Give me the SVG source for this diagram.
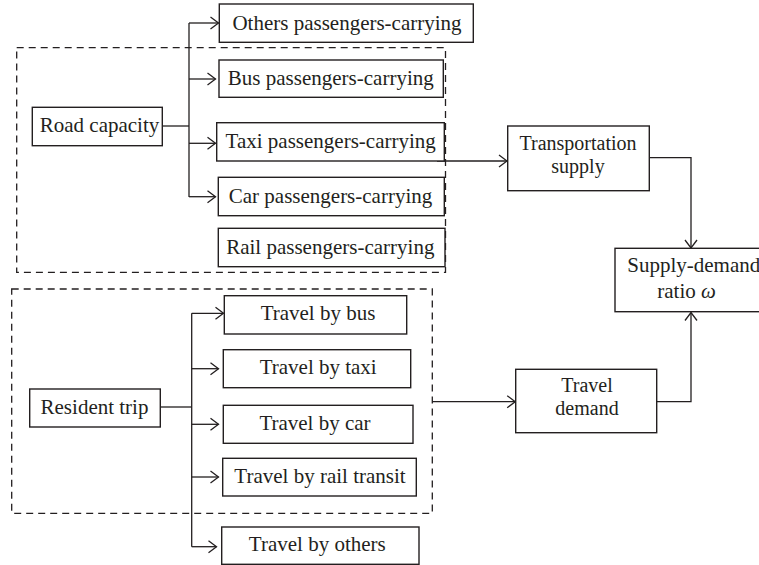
<svg xmlns="http://www.w3.org/2000/svg" width="759" height="565" viewBox="0 0 759 565">
<defs>
<style>
.box{fill:#fff;stroke:#231f20;stroke-width:1.4}
.dash{fill:none;stroke:#231f20;stroke-width:1.3;stroke-dasharray:7 5}
.ln{fill:none;stroke:#231f20;stroke-width:1.3}
text{font-family:"Liberation Serif","Times New Roman",serif;font-size:21px;fill:#231f20}
.c{text-anchor:middle}
.two{font-size:20px}
</style>
<marker id="ah" markerUnits="userSpaceOnUse" viewBox="0 0 10 14" refX="9" refY="7" markerWidth="10" markerHeight="14" orient="auto">
<path d="M1,1 L9,7 L1,13" fill="none" stroke="#231f20" stroke-width="1.3"/>
</marker>
</defs>
<rect width="759" height="565" fill="#fff"/>
<g id="groups">
<rect class="dash" x="16.7" y="47.7" width="428.8" height="224.6"/>
<rect class="dash" x="11.7" y="289" width="420.6" height="224.3"/>
</g>
<g id="connectors">
<path class="ln" d="M162.3,126 H189"/>
<path class="ln" d="M189,197 V23"/>
<path class="ln" d="M189,23 H218.5" marker-end="url(#ah)"/>
<path class="ln" d="M189,79 H215.5" marker-end="url(#ah)"/>
<path class="ln" d="M189,143.3 H215.5" marker-end="url(#ah)"/>
<path class="ln" d="M189,196.7 H215.5" marker-end="url(#ah)"/>
<path class="ln" d="M160.3,407 H191.7"/>
<path class="ln" d="M191.7,313.3 V546.7"/>
<path class="ln" d="M191.7,313.3 H223.5" marker-end="url(#ah)"/>
<path class="ln" d="M191.7,368.7 H218.5" marker-end="url(#ah)"/>
<path class="ln" d="M191.7,424.3 H218.5" marker-end="url(#ah)"/>
<path class="ln" d="M191.7,477 H218.5" marker-end="url(#ah)"/>
<path class="ln" d="M191.7,546.7 H216.5" marker-end="url(#ah)"/>
<path class="ln" d="M437,161 H507" marker-end="url(#ah)"/>
<path class="ln" d="M649.3,157.7 H691 V248" marker-end="url(#ah)"/>
<path class="ln" d="M657,401.7 H691 V312.5" marker-end="url(#ah)"/>
<path class="ln" d="M432.3,401.7 H515.2" marker-end="url(#ah)"/>
</g>
<g id="road-capacity"><rect class="box" x="32.3" y="107.3" width="130" height="38.4"/><text class="c" x="99.5" y="131.5">Road capacity</text></g>
<g id="others-pc"><rect class="box" x="219.3" y="4" width="254" height="38.3"/><text class="c" x="347" y="29.8">Others passengers-carrying</text></g>
<g id="bus-pc"><rect class="box" x="219" y="60" width="224.3" height="37.3"/><text class="c" x="330.8" y="85">Bus passengers-carrying</text></g>
<g id="taxi-pc"><rect class="box" x="216.7" y="122.7" width="227.6" height="38.3"/><text class="c" x="330.7" y="147.8">Taxi passengers-carrying</text></g>
<g id="car-pc"><rect class="box" x="218.3" y="177.3" width="226" height="38.4"/><text class="c" x="330.5" y="202.7">Car passengers-carrying</text></g>
<g id="rail-pc"><rect class="box" x="218.3" y="228.3" width="226.7" height="38.4"/><text class="c" x="330.3" y="253.5">Rail passengers-carrying</text></g>
<g id="resident-trip"><rect class="box" x="29.7" y="389" width="130.6" height="38"/><text class="c" x="94.5" y="413.5">Resident trip</text></g>
<g id="travel-bus"><rect class="box" x="224.3" y="295.7" width="182.4" height="38.3"/><text class="c" x="318" y="320.3">Travel by bus</text></g>
<g id="travel-taxi"><rect class="box" x="223.3" y="349.7" width="187.4" height="38"/><text class="c" x="318.2" y="374">Travel by taxi</text></g>
<g id="travel-car"><rect class="box" x="223.3" y="405.3" width="189.7" height="38"/><text class="c" x="315" y="429.5">Travel by car</text></g>
<g id="travel-rail"><rect class="box" x="222.7" y="458.3" width="193.6" height="37.7"/><text class="c" x="320" y="482.5">Travel by rail transit</text></g>
<g id="travel-others"><rect class="box" x="221.7" y="527" width="197.3" height="37.3"/><text class="c" x="317.3" y="551.3">Travel by others</text></g>
<g id="transport-supply"><rect class="box" x="507.7" y="126" width="141.6" height="64.7"/><text class="c two" x="578" y="150.3">Transportation</text><text class="c two" x="578" y="173">supply</text></g>
<g id="travel-demand"><rect class="box" x="515.7" y="369.3" width="141" height="63.4"/><text class="c two" x="587" y="392">Travel</text><text class="c two" x="587" y="414.7">demand</text></g>
<g id="supply-demand"><rect class="box" x="615" y="248.3" width="170" height="63.4"/><text x="627.3" y="271.7">Supply-demand</text><text x="657.3" y="298.3">ratio <tspan font-style="italic">ω</tspan></text></g>
</svg>
